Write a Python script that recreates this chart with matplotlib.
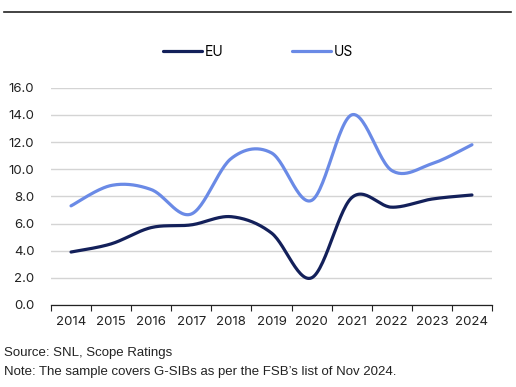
import numpy as np
import matplotlib.pyplot as plt

years = ["2014", "2015", "2016", "2017", "2018", "2019", "2020", "2021", "2022", "2023", "2024"]
eu = [3.9, 4.5, 5.7, 5.9, 6.5, 5.3, 2.0, 7.9, 7.2, 7.8, 8.1]
us = [7.3, 8.8, 8.5, 6.7, 10.8, 11.2, 7.7, 14.0, 9.9, 10.4, 11.8]

eu_color = "#13205a"
us_color = "#6a8ae6"


# Lissage type Excel (Bezier, tension 1/6)
def smooth(x, y, n=30):
    x = np.asarray(x, float)
    y = np.asarray(y, float)
    px = np.concatenate([[x[0]], x, [x[-1]]])
    py = np.concatenate([[y[0]], y, [y[-1]]])
    xs, ys = [], []
    t = np.linspace(0, 1, n)
    for i in range(len(x) - 1):
        p0 = np.array([px[i + 1], py[i + 1]])
        p3 = np.array([px[i + 2], py[i + 2]])
        c1 = p0 + (np.array([px[i + 2], py[i + 2]]) - np.array([px[i], py[i]])) / 6
        c2 = p3 - (np.array([px[i + 3], py[i + 3]]) - np.array([px[i + 1], py[i + 1]])) / 6
        b = ((1 - t) ** 3)[:, None] * p0 + (3 * (1 - t) ** 2 * t)[:, None] * c1 \
            + (3 * (1 - t) * t ** 2)[:, None] * c2 + (t ** 3)[:, None] * p3
        xs.append(b[:, 0])
        ys.append(b[:, 1])
    return np.concatenate(xs), np.concatenate(ys)


plt.rcParams['font.family'] = ['Inter', 'DejaVu Sans']

fig = plt.figure(figsize=(5.16, 3.87), dpi=100)
ax = fig.add_axes([0.0988, 0.2119, 0.8547, 0.5615])

x = np.arange(len(years))
sx, sy = smooth(x, eu)
ax.plot(sx, sy, color=eu_color, lw=2.3, solid_capstyle="round", label="EU")
sx, sy = smooth(x, us)
ax.plot(sx, sy, color=us_color, lw=2.3, solid_capstyle="round", label="US")

ax.set_xlim(-0.5, len(years) - 0.5)
ax.set_ylim(0, 16)
ax.set_yticks(np.arange(0, 17, 2))
ax.set_yticklabels([f"{v:.1f}" for v in np.arange(0, 17, 2)], fontsize=9.5, color="#222222")
ax.yaxis.grid(True, color="#d4d4d4", lw=1)
ax.set_axisbelow(True)
ax.tick_params(axis="y", length=0, pad=12)

# ticks aux frontières, labels au centre
ax.set_xticks(np.arange(-0.5, len(years), 1))
ax.set_xticklabels([])
ax.set_xticks(x, minor=True)
ax.set_xticklabels(years, minor=True, fontsize=9.5, color="#222222")
ax.tick_params(axis="x", which="major", length=4, color="#222222", width=0.8)
ax.tick_params(axis="x", which="minor", length=0, pad=8)

for s in ["top", "right", "left"]:
    ax.spines[s].set_visible(False)
ax.spines["bottom"].set_color("#222222")
ax.spines["bottom"].set_linewidth(0.9)

fig.legend(loc="center", bbox_to_anchor=(0.5, 0.866), ncol=2, frameon=False,
           fontsize=10, handlelength=2.8, handletextpad=0.2, columnspacing=5.0)

fig.add_artist(plt.Line2D([0.008, 0.99], [0.969, 0.969], color="#222222", lw=1.2))

fig.text(0.008, 0.088, "Source: SNL, Scope Ratings", fontsize=9.5, family="Liberation Sans", color="#222222", va="center")
fig.text(0.008, 0.039, "Note: The sample covers G-SIBs as per the FSB\u2019s list of Nov 2024.", fontsize=9.5,
         family="Liberation Sans", color="#222222", va="center")

fig.savefig("out.png", dpi=100)
